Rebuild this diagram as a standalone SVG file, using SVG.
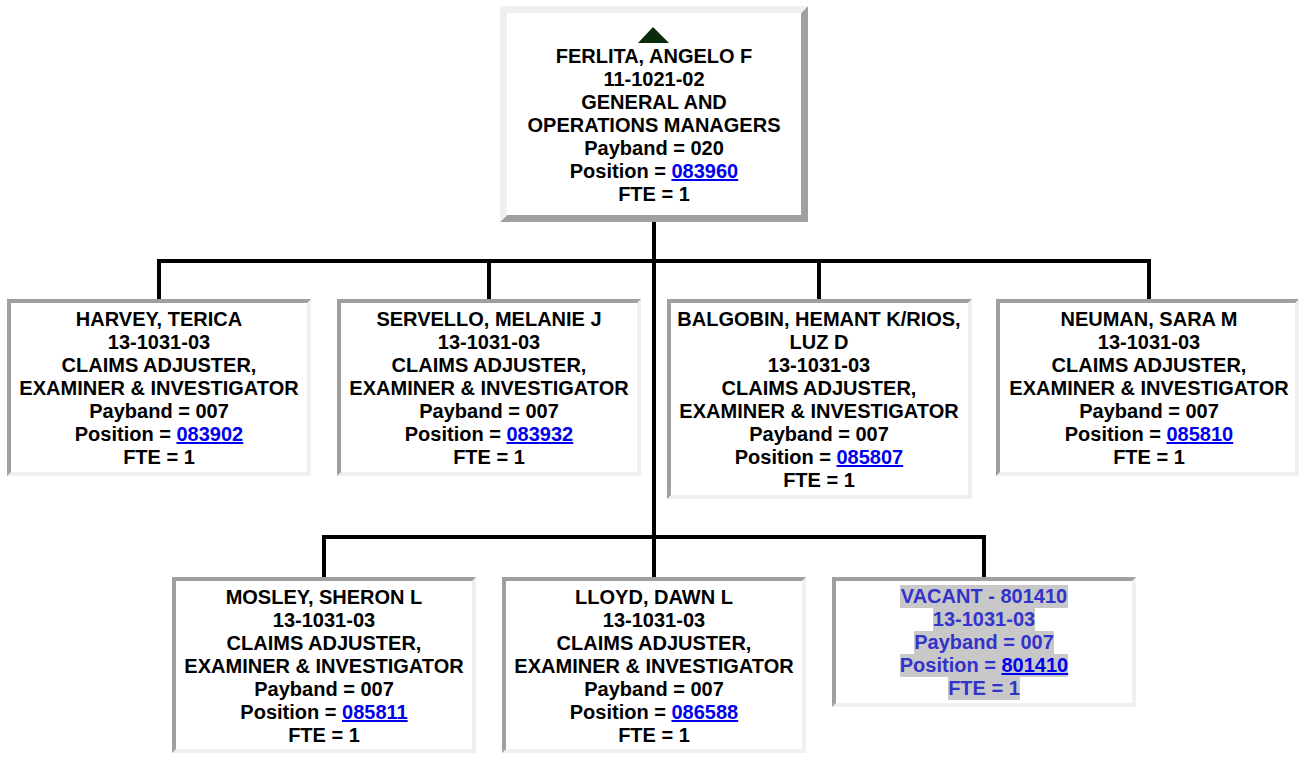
<svg xmlns="http://www.w3.org/2000/svg" width="1299" height="780" viewBox="0 0 1299 780">
<style>
.t{font-family:"Liberation Sans",Arial,Helvetica,sans-serif;font-weight:bold;font-size:20px;fill:#000;text-anchor:middle}
.v{fill:#3333cc}
.lk{fill:#0000ee;text-decoration:underline}
.dk{fill:#a0a0a0}
.lt{fill:#f0f0f0}
.in{fill:#fff}
.hl{fill:#c8c8c8}
.c{stroke:#000;stroke-width:4;fill:none}
</style>
<rect width="1299" height="780" fill="#fff"/>
<g id="connectors">
<path class="c" d="M654 222V537"/>
<path class="c" d="M159 299V261H1149V299M489 261V299M819 261V299"/>
<path class="c" d="M324 577V537H984V577M654 537V577"/>
</g>
<g id="n-ferlita">
<polygon class="dk" points="808,6 808,222 500,222 507,215 801,215 801,13"/>
<polygon class="lt" points="500,6 808,6 801,13 507,13 507,215 500,222"/>
<rect class="in" x="507" y="13" width="294" height="202"/>
<polygon points="653,27 669,43 638,43" fill="#0c2b0c"/>
<text class="t"><tspan x="654" y="63">FERLITA, ANGELO F</tspan><tspan x="654" y="86">11-1021-02</tspan><tspan x="654" y="109">GENERAL AND</tspan><tspan x="654" y="132">OPERATIONS MANAGERS</tspan><tspan x="654" y="155">Payband = 020</tspan><tspan x="654" y="178">Position = <tspan class="lk">083960</tspan></tspan><tspan x="654" y="201">FTE = 1</tspan></text>
</g>
<g id="n-harvey">
<rect class="lt" x="7" y="299" width="304" height="177"/>
<polygon class="dk" points="7,299 311,299 307,303 11,303 11,472 7,476"/>
<rect class="in" x="11" y="303" width="296" height="169"/>
<text class="t"><tspan x="159" y="326">HARVEY, TERICA</tspan><tspan x="159" y="349">13-1031-03</tspan><tspan x="159" y="372">CLAIMS ADJUSTER,</tspan><tspan x="159" y="395">EXAMINER &amp; INVESTIGATOR</tspan><tspan x="159" y="418">Payband = 007</tspan><tspan x="159" y="441">Position = <tspan class="lk">083902</tspan></tspan><tspan x="159" y="464">FTE = 1</tspan></text>
</g>
<g id="n-servello">
<rect class="lt" x="337" y="299" width="304" height="177"/>
<polygon class="dk" points="337,299 641,299 637,303 341,303 341,472 337,476"/>
<rect class="in" x="341" y="303" width="296" height="169"/>
<text class="t"><tspan x="489" y="326">SERVELLO, MELANIE J</tspan><tspan x="489" y="349">13-1031-03</tspan><tspan x="489" y="372">CLAIMS ADJUSTER,</tspan><tspan x="489" y="395">EXAMINER &amp; INVESTIGATOR</tspan><tspan x="489" y="418">Payband = 007</tspan><tspan x="489" y="441">Position = <tspan class="lk">083932</tspan></tspan><tspan x="489" y="464">FTE = 1</tspan></text>
</g>
<g id="n-balgobin">
<rect class="lt" x="667" y="299" width="305" height="200"/>
<polygon class="dk" points="667,299 972,299 968,303 671,303 671,495 667,499"/>
<rect class="in" x="671" y="303" width="297" height="192"/>
<text class="t"><tspan x="819" y="326">BALGOBIN, HEMANT K/RIOS,</tspan><tspan x="819" y="349">LUZ D</tspan><tspan x="819" y="372">13-1031-03</tspan><tspan x="819" y="395">CLAIMS ADJUSTER,</tspan><tspan x="819" y="418">EXAMINER &amp; INVESTIGATOR</tspan><tspan x="819" y="441">Payband = 007</tspan><tspan x="819" y="464">Position = <tspan class="lk">085807</tspan></tspan><tspan x="819" y="487">FTE = 1</tspan></text>
</g>
<g id="n-neuman">
<rect class="lt" x="996" y="299" width="303" height="177"/>
<polygon class="dk" points="996,299 1299,299 1295,303 1000,303 1000,472 996,476"/>
<rect class="in" x="1000" y="303" width="295" height="169"/>
<text class="t"><tspan x="1149" y="326">NEUMAN, SARA M</tspan><tspan x="1149" y="349">13-1031-03</tspan><tspan x="1149" y="372">CLAIMS ADJUSTER,</tspan><tspan x="1149" y="395">EXAMINER &amp; INVESTIGATOR</tspan><tspan x="1149" y="418">Payband = 007</tspan><tspan x="1149" y="441">Position = <tspan class="lk">085810</tspan></tspan><tspan x="1149" y="464">FTE = 1</tspan></text>
</g>
<g id="n-mosley">
<rect class="lt" x="172" y="577" width="304" height="176"/>
<polygon class="dk" points="172,577 476,577 472,581 176,581 176,749 172,753"/>
<rect class="in" x="176" y="581" width="296" height="168"/>
<text class="t"><tspan x="324" y="604">MOSLEY, SHERON L</tspan><tspan x="324" y="627">13-1031-03</tspan><tspan x="324" y="650">CLAIMS ADJUSTER,</tspan><tspan x="324" y="673">EXAMINER &amp; INVESTIGATOR</tspan><tspan x="324" y="696">Payband = 007</tspan><tspan x="324" y="719">Position = <tspan class="lk">085811</tspan></tspan><tspan x="324" y="742">FTE = 1</tspan></text>
</g>
<g id="n-lloyd">
<rect class="lt" x="502" y="577" width="304" height="176"/>
<polygon class="dk" points="502,577 806,577 802,581 506,581 506,749 502,753"/>
<rect class="in" x="506" y="581" width="296" height="168"/>
<text class="t"><tspan x="654" y="604">LLOYD, DAWN L</tspan><tspan x="654" y="627">13-1031-03</tspan><tspan x="654" y="650">CLAIMS ADJUSTER,</tspan><tspan x="654" y="673">EXAMINER &amp; INVESTIGATOR</tspan><tspan x="654" y="696">Payband = 007</tspan><tspan x="654" y="719">Position = <tspan class="lk">086588</tspan></tspan><tspan x="654" y="742">FTE = 1</tspan></text>
</g>
<g id="n-vacant">
<rect class="lt" x="832" y="577" width="304" height="130"/>
<polygon class="dk" points="832,577 1136,577 1132,581 836,581 836,703 832,707"/>
<rect class="in" x="836" y="581" width="296" height="122"/>
<rect class="hl" x="900" y="585" width="168" height="23"/>
<rect class="hl" x="933" y="608" width="102" height="23"/>
<rect class="hl" x="914" y="631" width="140" height="23"/>
<rect class="hl" x="900" y="654" width="168" height="23"/>
<rect class="hl" x="948" y="677" width="72" height="23"/>
<text class="t v"><tspan x="984" y="603">VACANT - 801410</tspan><tspan x="984" y="626">13-1031-03</tspan><tspan x="984" y="649">Payband = 007</tspan><tspan x="984" y="672">Position = <tspan class="lk">801410</tspan></tspan><tspan x="984" y="695">FTE = 1</tspan></text>
</g>
</svg>
